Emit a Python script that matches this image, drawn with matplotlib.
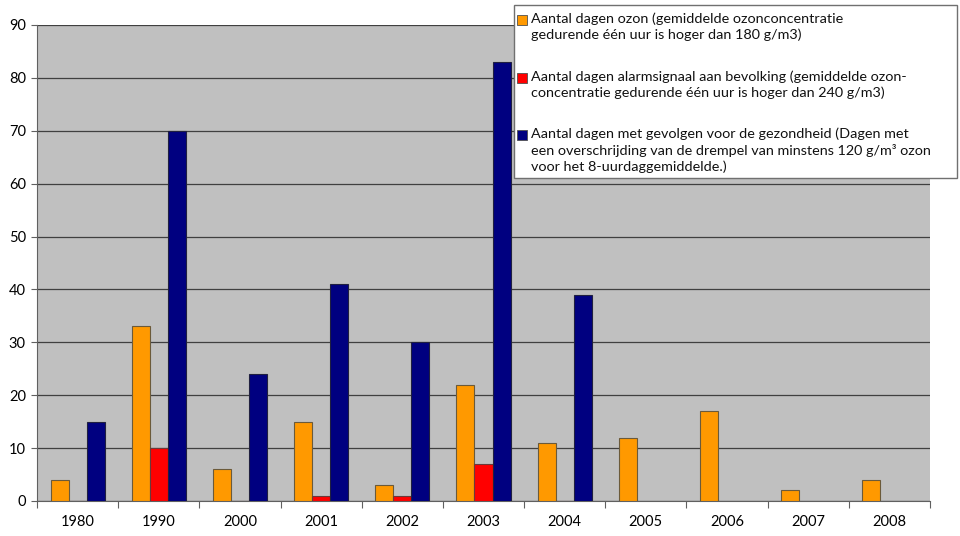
import numpy as np
import matplotlib.pyplot as plt
from matplotlib.patches import Rectangle

plt.rcParams['font.family'] = ['Lato', 'DejaVu Sans']

# aantal dagen per jaar
years = ['1980', '1990', '2000', '2001', '2002', '2003', '2004', '2005', '2006', '2007', '2008']
ozon = [4, 33, 6, 15, 3, 22, 11, 12, 17, 2, 4]
alarm = [0, 10, 0, 1, 1, 7, 0, np.nan, np.nan, np.nan, np.nan]
gezondheid = [15, 70, 24, 41, 30, 83, 39, np.nan, np.nan, np.nan, np.nan]

labels = [
    'Aantal dagen ozon (gemiddelde ozonconcentratie\ngedurende één uur is hoger dan 180 g/m3)',
    'Aantal dagen alarmsignaal aan bevolking (gemiddelde ozon-\nconcentratie gedurende één uur is hoger dan 240 g/m3)',
    'Aantal dagen met gevolgen voor de gezondheid (Dagen met\neen overschrijding van de drempel van minstens 120 g/m³ ozon\nvoor het 8-uurdaggemiddelde.)',
]
colors = ['#FF9900', '#FF0000', '#000080']
edges = ['#6b5a3a', '#6b3a3a', '#202040']

W, H = 960, 536
fig = plt.figure(figsize=(W / 100, H / 100), dpi=100)
ax = fig.add_axes([37 / W, 35 / H, 893 / W, 476 / H])
ax.set_facecolor('#C0C0C0')

x = np.arange(len(years))
w = 0.222
for off, vals, c, e in zip([-w, 0, w], [ozon, alarm, gezondheid], colors, edges):
    ax.bar(x + off, vals, w, color=c, edgecolor=e, linewidth=0.8, zorder=3)

ax.set_xlim(-0.5, len(years) - 0.5)
ax.set_ylim(0, 90)
ax.set_yticks(np.arange(0, 91, 10))
ax.yaxis.grid(True, color='#404040', linewidth=0.9, zorder=1)
ax.set_axisbelow(True)

# jaartallen tussen de tickmarks
ax.set_xticks(np.arange(-0.5, len(years), 1))
ax.set_xticklabels([])
ax.set_xticks(x, minor=True)
ax.set_xticklabels(years, minor=True, fontsize=10.5)
ax.tick_params(axis='x', which='minor', length=0, pad=10)
ax.tick_params(axis='x', which='major', length=5, color='#606060', direction='out')
ax.tick_params(axis='y', length=4, color='#606060', labelsize=10.5, pad=4)

for side in ['top', 'right']:
    ax.spines[side].set_visible(False)
ax.spines['left'].set_color('#606060')
ax.spines['bottom'].set_color('#606060')

# legenda met blokjes bovenaan elke tekst
def fx(px):
    return px / W

def fy(py):
    return 1 - py / H

fig.patches.append(Rectangle((fx(514), fy(178)), fx(957) - fx(514), fy(5) - fy(178),
                             transform=fig.transFigure, facecolor='white',
                             edgecolor='#707070', linewidth=1.0, zorder=5))
for lab, c, cy in zip(labels, colors, [20, 78, 135]):
    fig.patches.append(Rectangle((fx(517), fy(cy + 5)), fx(10), 10 / H,
                                 transform=fig.transFigure, facecolor=c,
                                 edgecolor='#505050', linewidth=0.6, zorder=6))
    fig.text(fx(531), fy(cy - 8), lab, ha='left', va='top', fontsize=10.4,
             linespacing=1.38, color='#111111', zorder=7)

fig.savefig('out.png', dpi=100)
